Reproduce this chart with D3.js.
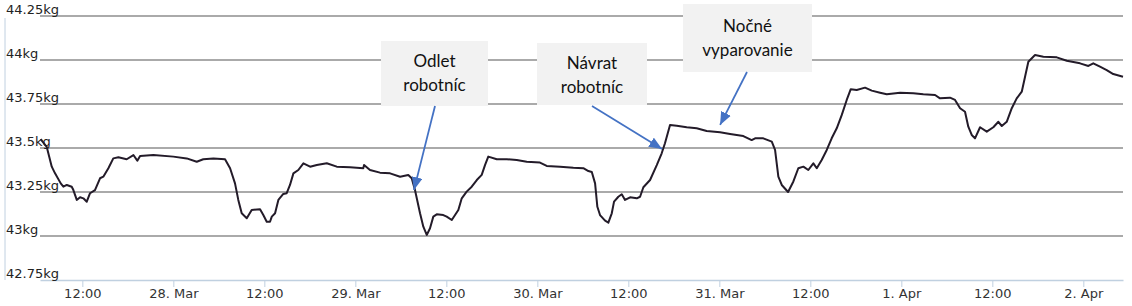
<!DOCTYPE html>
<html>
<head>
<meta charset="utf-8">
<script src="https://cdn.jsdelivr.net/npm/d3@7"></script>
<style>
  body { margin: 0; background: #fff; }
  #chart text { font-family: "DejaVu Sans", sans-serif; }
</style>
</head>
<body>
<div id="chart"></div>
<script>
// readings (year is arbitrary, not shown)
const times = [
  "03-27 06:30", "03-27 07:18", "03-27 07:58", "03-27 08:24", "03-27 09:09", "03-27 09:30",
  "03-27 09:57", "03-27 10:36", "03-27 10:49", "03-27 11:16", "03-27 11:42", "03-27 12:08",
  "03-27 12:35", "03-27 13:01", "03-27 13:40", "03-27 14:20", "03-27 14:46", "03-27 15:26",
  "03-27 16:05", "03-27 16:45", "03-27 17:51", "03-27 18:44", "03-27 19:15", "03-27 19:37",
  "03-27 21:22", "03-28 00:00", "03-28 01:46", "03-28 03:05", "03-28 03:57", "03-28 05:17",
  "03-28 06:49", "03-28 07:29", "03-28 08:08", "03-28 08:34", "03-28 09:01", "03-28 09:41",
  "03-28 10:20", "03-28 11:26", "03-28 11:52", "03-28 12:19", "03-28 12:45", "03-28 12:59",
  "03-28 13:25", "03-28 13:51", "03-28 14:30", "03-28 14:57", "03-28 15:23", "03-28 15:50",
  "03-28 16:29", "03-28 17:09", "03-28 18:02", "03-28 18:55", "03-28 20:14", "03-28 21:33",
  "03-28 23:18", "03-29 01:03", "03-29 01:09", "03-29 01:56", "03-29 03:15", "03-29 04:35",
  "03-29 05:54", "03-29 06:59", "03-29 07:26", "03-29 07:52", "03-29 08:32", "03-29 08:58",
  "03-29 09:25", "03-29 09:51", "03-29 10:17", "03-29 10:44", "03-29 11:36", "03-29 12:03",
  "03-29 12:43", "03-29 13:09", "03-29 13:35", "03-29 14:02", "03-29 14:41", "03-29 15:21",
  "03-29 16:01", "03-29 16:40", "03-29 17:06", "03-29 17:32", "03-29 18:39", "03-29 19:58",
  "03-29 21:17", "03-29 22:36", "03-30 00:21", "03-30 01:14", "03-30 03:00", "03-30 04:45",
  "03-30 06:04", "03-30 06:44", "03-30 07:11", "03-30 07:37", "03-30 07:55", "03-30 08:16",
  "03-30 08:56", "03-30 09:22", "03-30 09:49", "03-30 10:07", "03-30 10:41", "03-30 11:08",
  "03-30 11:34", "03-30 12:14", "03-30 13:07", "03-30 13:33", "03-30 13:59", "03-30 14:52",
  "03-30 15:45", "03-30 16:24", "03-30 16:50", "03-30 17:30", "03-30 18:23", "03-30 19:42",
  "03-30 21:01", "03-30 22:20", "03-31 00:06", "03-31 01:25", "03-31 03:10", "03-31 04:16",
  "03-31 04:43", "03-31 05:48", "03-31 06:55", "03-31 07:21", "03-31 07:47", "03-31 08:14",
  "03-31 09:04", "03-31 09:46", "03-31 10:25", "03-31 11:05", "03-31 11:44", "03-31 12:24",
  "03-31 12:51", "03-31 13:30", "03-31 14:10", "03-31 14:49", "03-31 15:29", "03-31 16:09",
  "03-31 16:48", "03-31 17:20", "03-31 18:07", "03-31 19:13", "03-31 20:06", "03-31 21:12",
  "03-31 22:05", "03-31 23:50", "04-01 01:35", "04-01 02:54", "04-01 04:27", "04-01 05:06",
  "04-01 06:25", "04-01 07:05", "04-01 07:45", "04-01 08:24", "04-01 08:50", "04-01 09:17",
  "04-01 09:43", "04-01 10:23", "04-01 11:16", "04-01 12:08", "04-01 12:48", "04-01 13:15",
  "04-01 13:54", "04-01 14:34", "04-01 15:13", "04-01 15:53", "04-01 16:19", "04-01 16:45",
  "04-01 17:38", "04-01 18:44", "04-01 20:30", "04-01 21:49", "04-01 23:34", "04-02 00:40",
  "04-02 01:19", "04-02 02:12", "04-02 03:05", "04-02 03:57", "04-02 05:14"
];
const weights = [
  43.55, 43.507, 43.394, 43.356, 43.299, 43.28,
  43.29, 43.28, 43.261, 43.205, 43.22, 43.214,
  43.195, 43.243, 43.261, 43.328, 43.337, 43.385,
  43.441, 43.447, 43.436, 43.46, 43.428, 43.455,
  43.46, 43.451, 43.441, 43.422, 43.436, 43.441,
  43.436, 43.385, 43.299, 43.205, 43.129, 43.101,
  43.148, 43.152, 43.119, 43.081, 43.081, 43.11,
  43.129, 43.205, 43.239, 43.243, 43.29, 43.356,
  43.375, 43.413, 43.394, 43.403, 43.413, 43.394,
  43.39, 43.385, 43.403, 43.375, 43.36, 43.356,
  43.337, 43.347, 43.328, 43.261, 43.129, 43.053,
  43.006, 43.044, 43.11, 43.123, 43.119, 43.11,
  43.091, 43.119, 43.148, 43.214, 43.252, 43.28,
  43.318, 43.347, 43.403, 43.451, 43.436, 43.436,
  43.432, 43.422, 43.417, 43.398, 43.394, 43.388,
  43.385, 43.369, 43.364, 43.299, 43.166, 43.119,
  43.087, 43.076, 43.129, 43.195, 43.223, 43.237,
  43.205, 43.22, 43.214, 43.223, 43.277, 43.318,
  43.403, 43.47, 43.527, 43.631, 43.627, 43.618,
  43.612, 43.597, 43.589, 43.58, 43.568, 43.545,
  43.555, 43.555, 43.536, 43.489, 43.337, 43.29,
  43.25, 43.31, 43.385, 43.394, 43.375, 43.413,
  43.385, 43.432, 43.489, 43.555, 43.612, 43.688,
  43.773, 43.834, 43.83, 43.843, 43.826, 43.814,
  43.805, 43.814, 43.811, 43.805, 43.801, 43.782,
  43.786, 43.773, 43.726, 43.706, 43.621, 43.574,
  43.555, 43.618, 43.593, 43.618, 43.649, 43.625,
  43.649, 43.726, 43.782, 43.82, 43.905, 43.99,
  44.028, 44.019, 44.015, 43.996, 43.981, 43.966,
  43.981, 43.962, 43.943, 43.92, 43.905
];
const timeRange = ["03-27 06:25", "04-02 05:14"];
const yTicks = [42.75, 43, 43.25, 43.5, 43.75, 44, 44.25];

// callouts: text lines, box (layout) and the point the arrow hits
const noteLines = [["Odlet", "robotníc"], ["Návrat", "robotníc"], ["Nočné", "vyparovanie"]];
const noteTimes = ["03-29 07:44", "03-30 16:27", "03-31 00:06"];
const noteWeights = [43.261, 43.494, 43.631];

const W = 1132, H = 306;
const margin = { top: 16, right: 9, bottom: 26, left: 40 };

const parse = d3.timeParse("%Y-%m-%d %H:%M");
const toDate = (s) => parse("2015-" + s);
const data = times.map((t, i) => ({ t: toDate(t), v: weights[i] }));

const svg = d3.select("#chart").append("svg")
  .attr("width", W)
  .attr("height", H);

const x = d3.scaleTime()
  .domain(timeRange.map(toDate))
  .range([margin.left, W - margin.right]);

const y = d3.scaleLinear()
  .domain([42.75, 44.25])
  .range([H - margin.bottom, margin.top]);

// gridlines
svg.append("g")
  .selectAll("line")
  .data(yTicks.slice(1))
  .join("line")
  .attr("x1", margin.left)
  .attr("x2", W - margin.right)
  .attr("y1", (d) => y(d))
  .attr("y2", (d) => y(d))
  .attr("stroke", "#8e8e8e")
  .attr("stroke-width", 1.5);

// y axis line at the far left
svg.append("line")
  .attr("x1", 5).attr("x2", 5)
  .attr("y1", y(44.25) + 2).attr("y2", y(42.75))
  .attr("stroke", "#c0d0e0");

// x axis
const xAxis = d3.axisBottom(x)
  .ticks(d3.timeHour.every(12))
  .tickSizeInner(7)
  .tickSizeOuter(0)
  .tickPadding(6)
  .tickFormat((d) => d.getHours() === 0 ? d3.timeFormat("%-d. %b")(d) : d3.timeFormat("%H:%M")(d));

const gx = svg.append("g")
  .attr("transform", `translate(0,${y(42.75)})`)
  .call(xAxis);
gx.select(".domain").attr("stroke", "#c0d0e0").attr("stroke-width", 1.5);
gx.selectAll(".tick line").attr("stroke", "#c0d0e0");
gx.selectAll(".tick text")
  .attr("font-size", 13)
  .attr("fill", "#333")
  .attr("y", 9);

// y labels
svg.append("g")
  .selectAll("text")
  .data(yTicks)
  .join("text")
  .attr("x", 6)
  .attr("y", (d) => y(d) - 2)
  .attr("font-size", 13)
  .attr("fill", "#222")
  .text((d) => d + "kg");

// weight line
const line = d3.line()
  .x((d) => x(d.t))
  .y((d) => y(d.v));

svg.append("path")
  .datum(data)
  .attr("fill", "none")
  .attr("stroke", "#231b29")
  .attr("stroke-width", 2)
  .attr("stroke-linejoin", "round")
  .attr("d", line);

// callouts
const boxes = [
  { x: 381, y: 41, w: 107, h: 65, from: [435, 106] },
  { x: 537, y: 43, w: 110, h: 62, from: [592, 106] },
  { x: 683, y: 4, w: 129, h: 68, from: [747, 72] }
];

svg.append("defs").append("marker")
  .attr("id", "arrow")
  .attr("markerUnits", "userSpaceOnUse")
  .attr("viewBox", "0 0 12 10")
  .attr("refX", 12)
  .attr("refY", 5)
  .attr("markerWidth", 13)
  .attr("markerHeight", 11)
  .attr("orient", "auto")
  .append("path")
  .attr("d", "M0,0L12,5L0,10Z")
  .attr("fill", "#4472c4");

boxes.forEach((b, i) => {
  const g = svg.append("g");
  g.append("rect")
    .attr("x", b.x).attr("y", b.y)
    .attr("width", b.w).attr("height", b.h)
    .attr("fill", "#f2f2f2");
  noteLines[i].forEach((s, j) => {
    g.append("text")
      .attr("x", b.x + b.w / 2)
      .attr("y", b.y + (i === 2 ? 28 : 26) + j * 24)
      .attr("text-anchor", "middle")
      .attr("font-family", "Lato, sans-serif")
      .attr("font-size", 17)
      .attr("fill", "#111")
      .style("font-family", "Lato, sans-serif")
      .text(s);
  });
  g.append("line")
    .attr("x1", b.from[0]).attr("y1", b.from[1])
    .attr("x2", x(toDate(noteTimes[i])))
    .attr("y2", y(noteWeights[i]))
    .attr("stroke", "#4472c4")
    .attr("stroke-width", 1.75)
    .attr("marker-end", "url(#arrow)");
});
</script>
</body>
</html>
